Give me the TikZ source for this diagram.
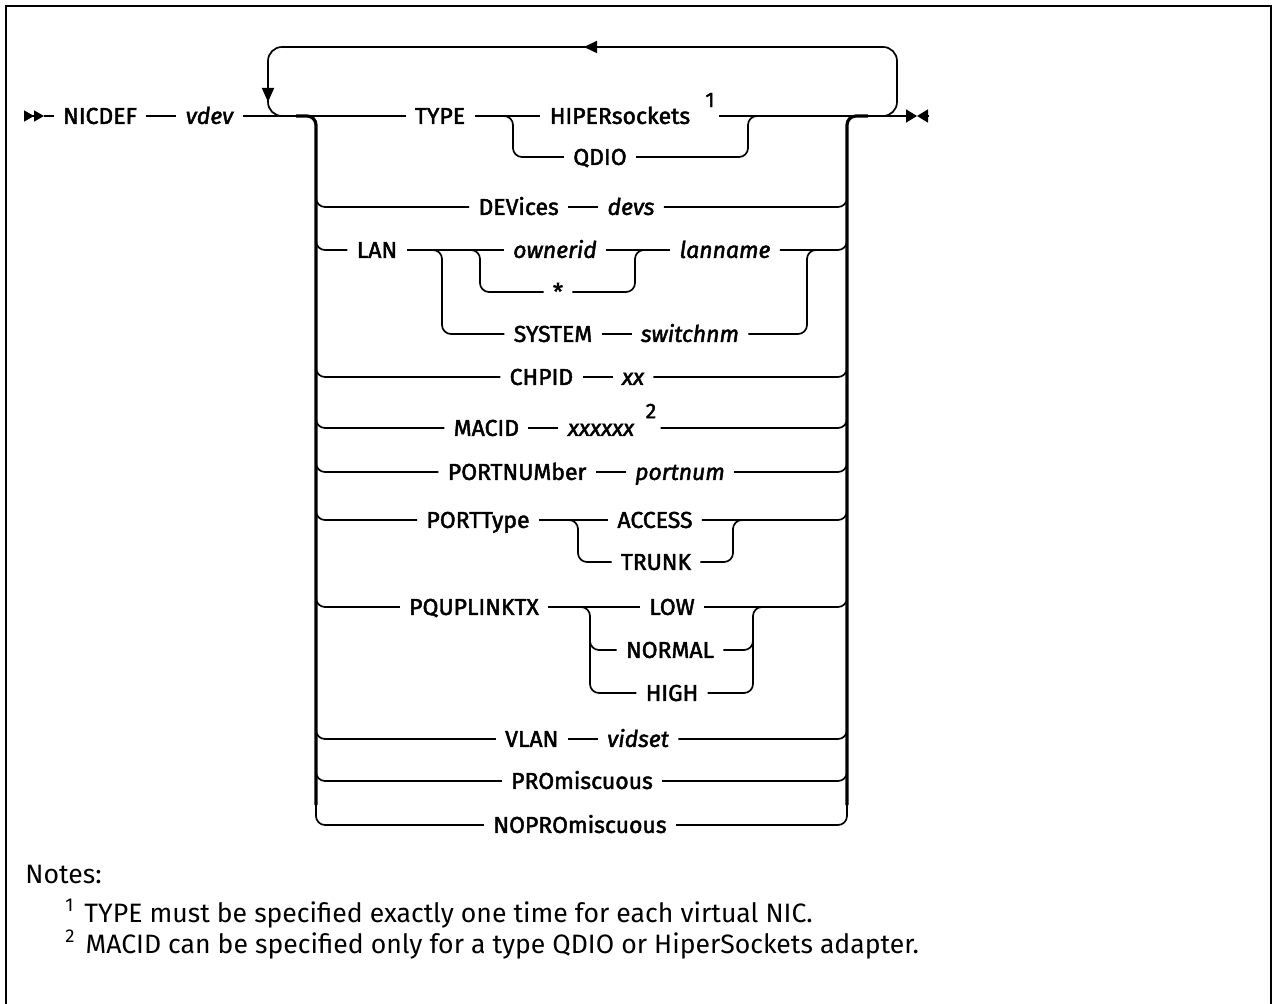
\documentclass[tikz,border=0pt]{standalone}
\usepackage{fontspec}
\setmainfont{Fira Sans}
\newfontfamily\railfont[FakeBold=2]{Fira Sans}
\usetikzlibrary{arrows.meta,positioning}

\tikzset{
  track/.style={line width=0.85pt, rounded corners=4.5pt},
  rail/.style={line width=1.6pt, rounded corners=4.5pt},
  loopline/.style={line width=0.85pt, rounded corners=7pt},
  kw/.style={inner xsep=4.5pt, inner ysep=0pt, text height=7.9pt, text depth=0pt,
    font=\railfont\fontsize{11.5}{13}\selectfont},
  var/.style={kw, font=\railfont\itshape\fontsize{11.5}{13}\selectfont},
  sup/.style={inner xsep=2pt, inner ysep=0pt, font=\railfont\fontsize{10.5}{12}\selectfont},
  note/.style={inner sep=0pt, anchor=base west, font=\fontsize{13.3}{16}\selectfont},
  node distance=15pt,
}

\begin{document}
\begin{tikzpicture}[x=0.5pt,y=-0.5pt]
  \useasboundingbox (0,0) rectangle (1273,1004);
  % frame
  \draw[line width=1pt] (6,1004) -- (6,6) -- (1271,6) -- (1271,1004);

  % keywords and variables
  \node[kw] (nicdef) at (100,116) {NICDEF};
  \node[var, right=of nicdef] (vdev) {vdev};
  \node[kw] (type) at (440,116) {TYPE};
  \node[kw] (hiper) at (620,116) {HIPERsockets};
  \node[sup] (fn1) at (710,100) {1};
  \node[kw] (qdio) at (600,157) {QDIO};
  \node[var] (devs) at (631,207) {devs};
  \node[kw, left=of devs] (devices) {DEVices};
  \node[kw] (lan) at (377,250) {LAN};
  \node[var] (ownerid) at (555,250) {ownerid};
  \node[var] (lanname) at (725,250) {lanname};
  \node[kw] (star) at (558,292) {*};
  \node[kw] (system) at (553,334) {SYSTEM};
  \node[var, right=of system] (switchnm) {switchnm};
  \node[var] (xx) at (633,377) {xx};
  \node[kw, left=of xx] (chpid) {CHPID};
  \node[var] (macval) at (601,428) {xxxxxx};
  \node[kw, left=of macval] (macid) {MACID};
  \node[sup] (fn2) at (651,411) {2};
  \node[var] (portval) at (680,472) {portnum};
  \node[kw, left=of portval] (portnum) {PORTNUMber};
  \node[kw] (porttype) at (478,520) {PORTType};
  \node[kw] (access) at (655,520) {ACCESS};
  \node[kw] (trunk) at (656,562) {TRUNK};
  \node[kw] (pqup) at (474,607) {PQUPLINKTX};
  \node[kw] (low) at (672,607) {LOW};
  \node[kw] (normal) at (670,650) {NORMAL};
  \node[kw] (high) at (672,693) {HIGH};
  \node[var] (vidset) at (638,739) {vidset};
  \node[kw, left=of vidset] (vlan) {VLAN};
  \node[kw] (promisc) at (582,781) {PROmiscuous};
  \node[kw] (nopromisc) at (580,825) {NOPROmiscuous};

  % main line
  \coordinate (begin) at (24,116);
  \coordinate (finish) at (917,116);
  \draw[line width=0.85pt, -{Triangle[length=5pt,width=5.5pt]Triangle[length=5pt,width=5.5pt]}]
    (begin) -- (44,116);
  \draw[track] (44,116) -- (nicdef.west);
  \draw[track] (nicdef.east) -- (vdev.west);
  \draw[track] (vdev.east) -- (type.west);
  \draw[track] (type.east) -- (hiper.west);
  \draw[track, -{Triangle[length=5.5pt,width=6.5pt]}] (hiper.east -| fn1.east) -- (finish);
  \draw[line width=0.85pt, {Triangle[length=5.5pt,width=6.5pt]}-] (finish) -- (929,116);

  % repeat loop
  \draw[loopline, -{Triangle[length=6.5pt,width=6pt]}] (860,116) -| (897,47) -- (584,47);
  \draw[loopline, -{Triangle[length=7pt,width=6pt]}] (590,47) -| (268,102);
  \draw[loopline] (268,96) |- (296,116);

  % stack rails
  \draw[rail] (296,116) -| (316,805);
  \draw[rail] (847,805) |- (868,116);

  % TYPE
  \draw[track] (496,116) -| (513,140) |- (qdio.west);
  \draw[track] (qdio.east) -| (748,140) |- (766,116);

  % DEVices
  \draw[track] (316,190) |- (devices.west);
  \draw[track] (devices.east) -- (devs.west);
  \draw[track] (devs.east) -| (847,190);

  % LAN
  \draw[track] (316,232) |- (lan.west);
  \draw[track] (lan.east) -- (ownerid.west);
  \draw[track] (ownerid.east) -- (lanname.west);
  \draw[track] (lanname.east) -| (847,232);
  \draw[track] (424,250) -| (442,280) |- (system.west);
  \draw[track] (463,250) -| (480,270) |- (star.west);
  \draw[track] (star.east) -| (635,270) |- (653,250);
  \draw[track] (system.east) -- (switchnm.west);
  \draw[track] (switchnm.east) -| (807,280) |- (825,250);

  % CHPID
  \draw[track] (316,360) |- (chpid.west);
  \draw[track] (chpid.east) -- (xx.west);
  \draw[track] (xx.east) -| (847,360);

  % MACID
  \draw[track] (316,410) |- (macid.west);
  \draw[track] (macid.east) -- (macval.west);
  \draw[track] (macval.east -| fn2.east) -| (847,410);

  % PORTNUMber
  \draw[track] (316,455) |- (portnum.west);
  \draw[track] (portnum.east) -- (portval.west);
  \draw[track] (portval.east) -| (847,455);

  % PORTType
  \draw[track] (316,503) |- (porttype.west);
  \draw[track] (porttype.east) -- (access.west);
  \draw[track] (access.east) -| (847,503);
  \draw[track] (561,520) -| (578,540) |- (trunk.west);
  \draw[track] (trunk.east) -| (733,540) |- (751,520);

  % PQUPLINKTX
  \draw[track] (316,590) |- (pqup.west);
  \draw[track] (pqup.east) -- (low.west);
  \draw[track] (low.east) -| (847,590);
  \draw[track] (573,607) -| (590,630) |- (normal.west);
  \draw[track] (590,640) |- (high.west);
  \draw[track] (normal.east) -| (753,630) |- (771,607);
  \draw[track] (high.east) -| (753,640);

  % VLAN
  \draw[track] (316,722) |- (vlan.west);
  \draw[track] (vlan.east) -- (vidset.west);
  \draw[track] (vidset.east) -| (847,722);

  % PROmiscuous / NOPROmiscuous
  \draw[track] (316,764) |- (promisc.west);
  \draw[track] (promisc.east) -| (847,764);
  \draw[track] (316,790) |- (nopromisc.west);
  \draw[track] (nopromisc.east) -| (847,790);

  % notes
  \node[note] (notes) at (25,883) {Notes:};
  \node[note] (note1) at (65,922) {\textsuperscript{1}\hspace{5pt}TYPE must be specified exactly one time for each virtual NIC.};
  \node[note] (note2) at (65,953) {\textsuperscript{2}\hspace{5pt}MACID can be specified only for a type QDIO or HiperSockets adapter.};
\end{tikzpicture}
\end{document}
